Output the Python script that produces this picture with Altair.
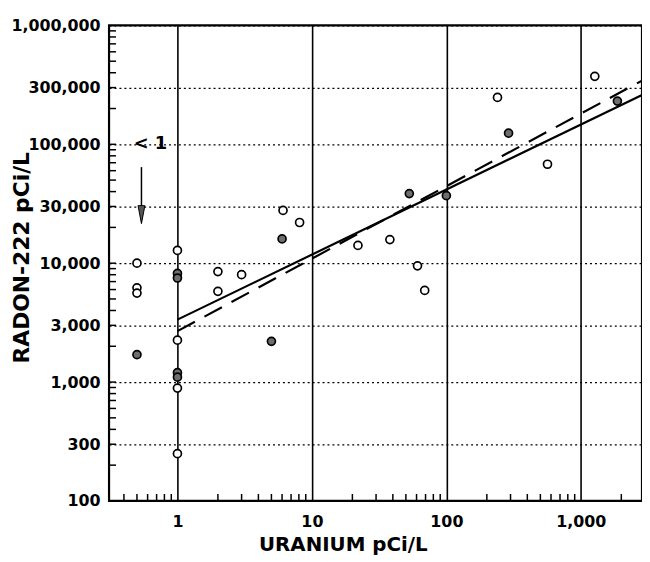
import altair as alt
import pandas as pd

# ---- data ----
open_u = [0.5, 0.5, 0.5, 1, 1, 1, 1, 2, 2, 3, 6.1, 8.1, 22, 38, 61, 69, 240, 565, 1270]
open_r = [10000, 6200, 5600, 12800, 2250, 890, 250, 8500, 5800, 8000, 27800, 22000,
          14100, 15800, 9500, 5900, 248000, 68000, 373000]

filled_u = [0.5, 1, 1, 1, 1, 5, 6, 53, 100, 290, 1870]
filled_r = [1700, 8200, 7500, 1200, 1100, 2200, 16000, 38500, 37000, 124000, 231000]

solid_u = [1, 2850]
solid_r = [3350, 260000]
dashed_u = [1, 2850]
dashed_r = [2680, 343000]

arrow_u = [0.54]
arrow_top = [64300]
arrow_bottom = [27000]
arrowhead_r = [25600]
note_u = [0.63]
note_r = [100000]
note_text = ["< 1"]

x_ticks = [1, 10, 100, 1000]
y_ticks = [100, 300, 1000, 3000, 10000, 30000, 100000, 300000, 1000000]
x_minor = [m * 10 ** k for k in range(-1, 4) for m in range(2, 10) if 0.31 <= m * 10 ** k <= 2850]
y_minor = [m * 10 ** k for k in range(2, 6) for m in range(1, 10)]
x_min, x_max = 0.31, 2850

W, H = 538, 480
FONT = "DejaVu Sans"

df_open = pd.DataFrame({"u": open_u, "r": open_r})
df_filled = pd.DataFrame({"u": filled_u, "r": filled_r})
df_solid = pd.DataFrame({"u": solid_u, "r": solid_r})
df_dashed = pd.DataFrame({"u": dashed_u, "r": dashed_r})
df_arrow = pd.DataFrame({"u": arrow_u, "r": arrow_top, "r2": arrow_bottom, "h": arrowhead_r})
df_note = pd.DataFrame({"u": note_u, "r": note_r, "t": note_text})
df_xminor = pd.DataFrame({"u": x_minor})
df_yminor = pd.DataFrame({"r": y_minor, "u": [x_min] * len(y_minor)})

xs = alt.Scale(type="log", domain=[x_min, x_max], nice=False)
ys = alt.Scale(type="log", domain=[100, 1000000], nice=False)

main_x = alt.Axis(values=x_ticks, format=",", title="URANIUM pCi/L", grid=True,
                  gridColor="black", gridWidth=1.6, gridOpacity=1, ticks=False, domain=False,
                  labelFont=FONT, labelFontWeight="bold", labelFontSize=16, labelColor="black",
                  labelPadding=13, labelFlush=False, labelOverlap=False,
                  titleFont=FONT, titleFontWeight="bold", titleFontSize=20, titleColor="black",
                  titleX=236, titleY=44, titleBaseline="middle", titleAlign="center")
main_y = alt.Axis(values=y_ticks, format=",", title="RADON-222 pCi/L", grid=True,
                  gridColor="black", gridWidth=1.2, gridDash=[2, 3], gridOpacity=1,
                  ticks=False, domain=False,
                  labelFont=FONT, labelFontWeight="bold", labelFontSize=16, labelColor="black",
                  labelPadding=9, labelFlush=False, labelOverlap=False,
                  titleFont=FONT, titleFontWeight="bold", titleFontSize=22, titleColor="black",
                  titleX=-88, titleY=234, titleBaseline="middle", titleAlign="center", titleAngle=-90)

X = alt.X("u:Q", scale=xs, axis=main_x, title="URANIUM pCi/L")
Y = alt.Y("r:Q", scale=ys, axis=main_y, title="RADON-222 pCi/L")

xminor_ticks = alt.Chart(df_xminor).mark_rule(color="black", strokeWidth=1.5).encode(
    x=X, y=alt.value(H), y2=alt.value(H - 7))
yminor_ticks = alt.Chart(df_yminor).mark_point(shape="stroke", size=49, stroke="black",
                                               strokeWidth=1.5, xOffset=3.5, opacity=1).encode(
    x=X, y=Y)

solid = alt.Chart(df_solid).mark_line(color="black", strokeWidth=2.2).encode(x=X, y=Y)
dashed = alt.Chart(df_dashed).mark_line(color="black", strokeWidth=2.2, strokeDash=[20, 11]).encode(x=X, y=Y)

open_pts = alt.Chart(df_open).mark_point(shape="circle", size=65, filled=True, fill="white",
                                         stroke="black", strokeWidth=1.7, opacity=1).encode(x=X, y=Y)
filled_pts = alt.Chart(df_filled).mark_point(shape="circle", size=65, filled=True, fill="#6e6e6e",
                                             stroke="black", strokeWidth=1.7, opacity=1).encode(x=X, y=Y)

arrow_line = alt.Chart(df_arrow).mark_rule(color="black", strokeWidth=1.5).encode(
    x=X, y=Y, y2="r2:Q")
arrow_head = alt.Chart(df_arrow).mark_point(shape="M-0.38,-1L0.38,-1L0,1Z", size=330, filled=True,
                                            fill="#555555", stroke="black", strokeWidth=1,
                                            opacity=1).encode(
    x=X, y=alt.Y("h:Q", scale=ys, axis=main_y, title="RADON-222 pCi/L"))
note = alt.Chart(df_note).mark_text(font=FONT, fontWeight="bold", fontSize=18, color="black",
                                    align="center", baseline="middle").encode(x=X, y=Y, text="t:N")

chart = alt.layer(solid, dashed, open_pts, filled_pts,
                  arrow_line, arrow_head, note, xminor_ticks, yminor_ticks).properties(
    width=W, height=H,
    autosize=alt.AutoSizeParams(type="none"),
    padding={"left": 102, "top": 15, "right": 0, "bottom": 54},
    background="white",
).configure_view(stroke="black", strokeWidth=2.2)

chart.save("out.html", embed_options={"renderer": "svg", "actions": False})
